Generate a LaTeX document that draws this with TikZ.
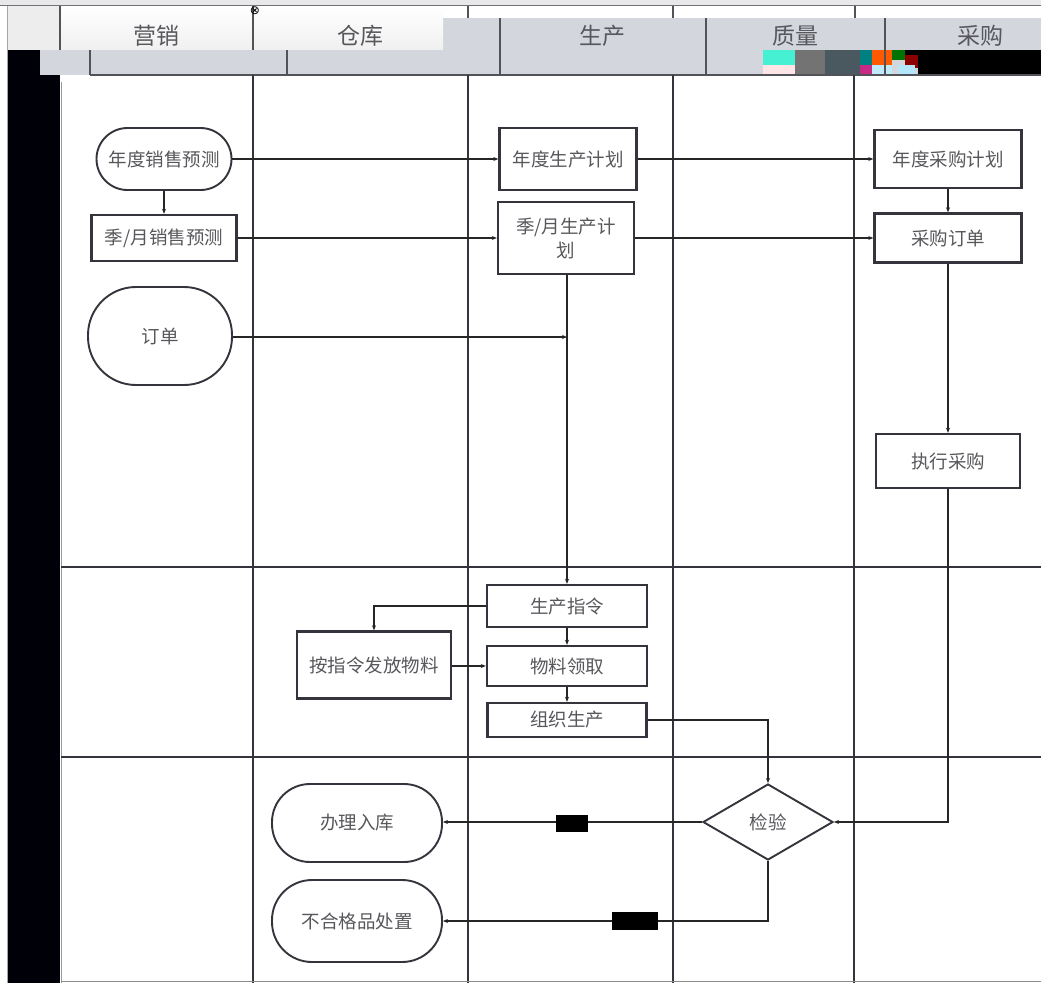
\documentclass[tikz,border=0pt]{standalone}
\usepackage{fontspec}
\newfontfamily\cjk{Noto Sans CJK SC}
\newfontfamily\dejavu{DejaVu Sans}
\usetikzlibrary{arrows.meta,shapes.geometric}
\definecolor{lanec}{RGB}{52,52,60}
\definecolor{txtc}{RGB}{88,88,92}
\definecolor{hdrc}{RGB}{211,214,221}
\definecolor{topc}{RGB}{232,232,234}
\definecolor{slatec}{RGB}{74,88,96}
\definecolor{glcyan}{RGB}{70,240,210}
\tikzset{
  lane/.style={draw=lanec, line width=2.1pt},
  hdiv/.style={draw=lanec!85, line width=1.6pt},
  hdrtext/.style={text=txtc, font=\cjk\fontsize{23}{26}\selectfont, inner sep=0pt},
  stepbox/.style={draw=lanec, line width=2.4pt, fill=white, text=txtc,
    font=\cjk\fontsize{18.5}{24}\selectfont, align=center, inner sep=0pt},
  termbox/.style={stepbox, line width=1.9pt},
  decbox/.style={stepbox, shape=diamond, line width=1.9pt},
  conn/.style={draw=black!85, line width=1.3pt},
  arr/.style={conn, -{Stealth[length=5pt,width=4pt]}},
  tagbox/.style={fill=black, text=black, inner sep=0pt, font=\cjk\fontsize{12}{12}\selectfont}
}
\begin{document}
\begin{tikzpicture}[x=1pt,y=-1pt]
\useasboundingbox (0,0) rectangle (1041,983);
\fill[white] (0,0) rectangle (1041,983);
% top strip
\fill[topc] (0,0) rectangle (1041,5);
\draw[black!55, line width=1pt] (0,5.5) -- (1041,5.5);
% header bands
\fill[hdrc] (40,18) rectangle (1041,75);
\shade[top color=white, bottom color=black!6] (8,6) rectangle (443,50);
\fill[black!7] (8,6) rectangle (60,50);
\fill[hdrc] (40,50) rectangle (443,75);
\fill[hdrc] (40,75) rectangle (60,82);
% glitch blocks in header
\fill[glcyan] (763,50) rectangle (795,65);
\fill[red!10] (763,65) rectangle (795,75);
\fill[black!55] (795,50) rectangle (825,75);
\fill[slatec] (825,50) rectangle (860,75);
\fill[teal] (860,50) rectangle (872,65);
\fill[orange!70!red] (872,50) rectangle (892,65);
\fill[magenta!80!black] (860,65) rectangle (872,75);
\fill[cyan!25] (872,65) rectangle (892,75);
\fill[green!45!black] (892,50) rectangle (905,60);
\fill[red!55!black] (905,55) rectangle (918,68);
\fill[black] (905,50) rectangle (1041,55);
\fill[black] (918,55) rectangle (1041,75);
\fill[cyan!30] (898,65) rectangle (915,75);
% left black band
\fill[black!97!blue] (8,50) rectangle (40,75);
\fill[black!97!blue] (8,75) rectangle (60,983);
\draw[black!35, line width=0.8pt] (7,6) -- (7,983);
\draw[black!40, line width=0.8pt] (61,82) -- (61,983);
% header dividers
\draw[hdiv] (60,6) -- (60,50);
\draw[hdiv] (253,6) -- (253,50);
\draw[hdiv] (468,6) -- (468,18);
\draw[hdiv] (673,6) -- (673,18);
\draw[hdiv] (855,6) -- (855,18);
\draw[hdiv] (90,50) -- (90,75);
\draw[hdiv] (287,50) -- (287,75);
\draw[hdiv] (500,18) -- (500,75);
\draw[hdiv] (706,18) -- (706,75);
\draw[hdiv] (885,18) -- (885,75);
\draw[lanec!85, line width=1.5pt] (90,75) -- (1041,75);
\node[inner sep=0pt] (mk) at (255,11) {\dejavu\fontsize{12}{12}\selectfont ⊗};
% header labels
\node[hdrtext] (h1) at (156,36) {营销};
\node[hdrtext] (h2) at (360,36) {仓库};
\node[hdrtext] (h3) at (602,36) {生产};
\node[hdrtext] (h4) at (795,36) {质量};
\node[hdrtext] (h5) at (980,36) {采购};
% lanes
\draw[lane] (253,75) -- (253,983);
\draw[lane] (468,75) -- (468,983);
\draw[lane] (673,75) -- (673,983);
\draw[lane] (854,75) -- (854,983);
\draw[lane] (61,567) -- (1041,567);
\draw[lane] (61,757) -- (1041,757);
\draw[black!45, line width=1pt] (61,981.5) -- (1041,981.5);
% nodes
\node[termbox, rounded corners=31pt, minimum width=135pt, minimum height=62pt] (n1) at (164,159) {年度销售预测};
\node[stepbox, minimum width=145pt, minimum height=46pt] (n2) at (164,238) {季/月销售预测};
\node[termbox, rounded corners=48pt, minimum width=144pt, minimum height=98pt] (n3) at (160,336) {订单};
\node[stepbox, minimum width=137pt, minimum height=62pt] (n4) at (568,159) {年度生产计划};
\node[stepbox, minimum width=136pt, minimum height=72pt] (n5) at (566,238) {季/月生产计\\划};
\node[stepbox, minimum width=147pt, minimum height=58pt] (n6) at (948,159) {年度采购计划};
\node[stepbox, minimum width=147pt, minimum height=49pt] (n7) at (948,238) {采购订单};
\node[stepbox, minimum width=144pt, minimum height=54pt] (n8) at (948,461) {执行采购};
\node[stepbox, minimum width=160pt, minimum height=42pt] (n9) at (567,606) {生产指令};
\node[stepbox, minimum width=160pt, minimum height=40pt] (n10) at (567,666) {物料领取};
\node[stepbox, minimum width=159pt, minimum height=34pt] (n11) at (567,720) {组织生产};
\node[stepbox, minimum width=154pt, minimum height=67pt] (n12) at (374,665) {按指令发放物料};
\node[decbox, minimum width=130pt, minimum height=76pt] (n13) at (768,822) {检验};
\node[termbox, rounded corners=38pt, minimum width=170pt, minimum height=78pt] (n14) at (357,823) {办理入库};
\node[termbox, rounded corners=40pt, minimum width=170pt, minimum height=82pt] (n15) at (357,921) {不合格品处置};
% junction coordinates
\coordinate (j1) at (567,337);
% connectors
\draw[arr] (n1.east) -- (n4.west);
\draw[arr] (n1.south) -- (n2.north);
\draw[arr] (n2.east) -- (n2.east -| n5.west);
\draw[arr] (n4.east) -- (n4.east -| n6.west);
\draw[arr] (n5.east |- n2.east) -- (n2.east -| n7.west);
\draw[arr] (n6.south) -- (n7.north);
\draw[arr] (n7.south) -- (n8.north);
\draw[arr] (n3.east |- j1) -- (j1);
\draw[arr] (n5.south -| n9.north) -- (n9.north);
\draw[arr] (n9.west) -| (n12.north);
\draw[arr] (n12.east |- n10.west) -- (n10.west);
\draw[arr] (n9.south) -- (n10.north);
\draw[arr] (n10.south) -- (n11.north);
\draw[arr] (n11.east) -| (n13.north);
\draw[arr] (n8.south) |- (n13.east);
\draw[arr] (n13.west) -- (n14.east |- n13.west);
\draw[arr] (n13.south) |- (n15.east);
% tags
\node[tagbox, minimum width=32pt, minimum height=17pt] (t1) at (572,823) {合格};
\node[tagbox, minimum width=46pt, minimum height=18pt] (t2) at (635,921) {不合格};
\end{tikzpicture}
\end{document}
